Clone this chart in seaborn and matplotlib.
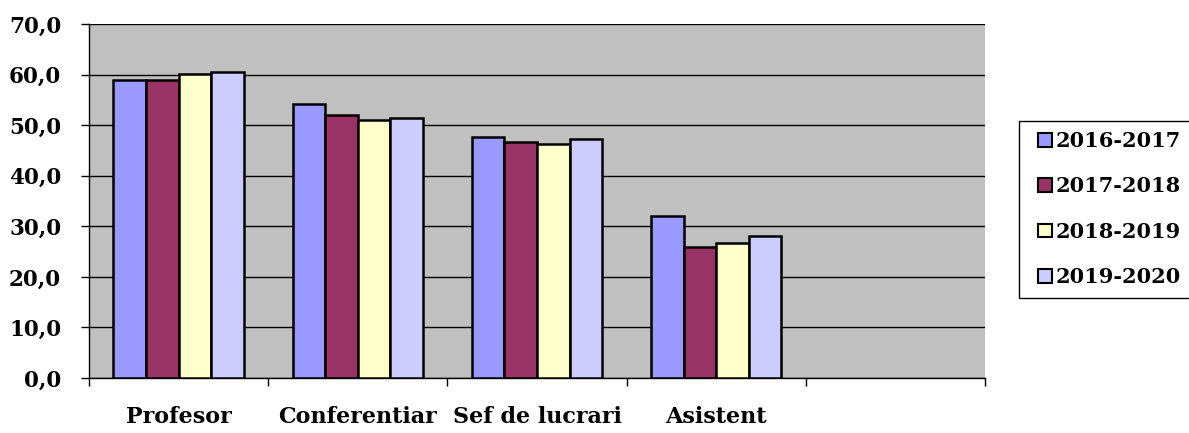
import matplotlib
matplotlib.use("Agg")
import matplotlib.pyplot as plt
import seaborn as sns
import pandas as pd
from matplotlib.ticker import FuncFormatter, FixedLocator
from matplotlib.patches import Patch, Rectangle

categories = ["Profesor", "Conferentiar", "Sef de lucrari", "Asistent"]
years = ["2016-2017", "2017-2018", "2018-2019", "2019-2020"]
v_2016 = [58.9, 54.2, 47.6, 32.0]
v_2017 = [59.0, 52.1, 46.6, 26.0]
v_2018 = [60.2, 51.0, 46.2, 26.6]
v_2019 = [60.5, 51.4, 47.2, 28.1]
colors = ["#9999FF", "#993366", "#FFFFCC", "#CCCCFF"]

series = [v_2016, v_2017, v_2018, v_2019]
rows = []
for y, vals in zip(years, series):
    for c, v in zip(categories, vals):
        rows.append({"cat": c, "year": y, "val": v})
df = pd.DataFrame(rows)

sns.set_style("white")
plt.rcParams["font.family"] = ["DejaVu Serif"]
plt.rcParams["font.weight"] = "bold"
plt.rcParams["text.color"] = "black"
plt.rcParams["xtick.color"] = "black"
plt.rcParams["ytick.color"] = "black"

W, H = 1189, 433
fig = plt.figure(figsize=(W / 100, H / 100), dpi=100)
ax = fig.add_axes([89 / W, 1 - 378 / H, (985 - 89) / W, (378 - 24) / H])
ax.set_facecolor("#C0C0C0")

order = categories + [" "]
sns.barplot(data=df, x="cat", y="val", hue="year", order=order, hue_order=years,
            palette=colors, width=0.727, gap=0, edgecolor="black", linewidth=1.8,
            saturation=1, errorbar=None, ax=ax, legend=False, zorder=3)

ax.set_xlim(-0.5, 4.5)
ax.set_ylim(0, 70)
ax.set_yticks(range(0, 71, 10))
ax.yaxis.set_major_formatter(FuncFormatter(lambda v, p: f"{v:.1f}".replace(".", ",")))
ax.grid(axis="y", color="black", linewidth=1.0, zorder=1)
ax.set_axisbelow(True)

ax.set_xticks(range(5))
ax.set_xticklabels(categories + [""])
ax.xaxis.set_minor_locator(FixedLocator([i - 0.5 for i in range(6)]))
ax.tick_params(axis="x", which="major", length=0, pad=20, labelsize=16, labelcolor="black")
ax.tick_params(axis="x", which="minor", length=6, width=1, color="black", direction="out", bottom=True)
ax.tick_params(axis="y", length=6, width=1, color="black", direction="out", left=True,
               labelsize=15.5, pad=14, labelcolor="black")
for lab in ax.get_xticklabels() + ax.get_yticklabels():
    lab.set_fontweight("bold")

ax.set_xlabel("")
ax.set_ylabel("")
for s in ["top", "right"]:
    ax.spines[s].set_visible(False)
for s in ["left", "bottom"]:
    ax.spines[s].set_color("black")
    ax.spines[s].set_linewidth(1.0)

# legend frame (extends past right edge, as in the reference)
frame = Rectangle((1019 / W, 1 - 298 / H), 200 / W, (298 - 121) / H, transform=fig.transFigure,
                  facecolor="white", edgecolor="black", linewidth=1.0, clip_on=False)
fig.patches.append(frame)

handles = [Patch(facecolor=c, edgecolor="black", linewidth=1.5) for c in colors]
leg = fig.legend(handles, years, loc="upper left", bbox_to_anchor=(1038 / W, 1 - 131 / H),
                 frameon=False, fontsize=15, handlelength=0.65, handleheight=0.65,
                 handletextpad=0.2, labelspacing=1.22, borderpad=0, borderaxespad=0)
for t in leg.get_texts():
    t.set_fontweight("bold")
    t.set_color("black")

fig.savefig("out.png", dpi=100, facecolor="white")
